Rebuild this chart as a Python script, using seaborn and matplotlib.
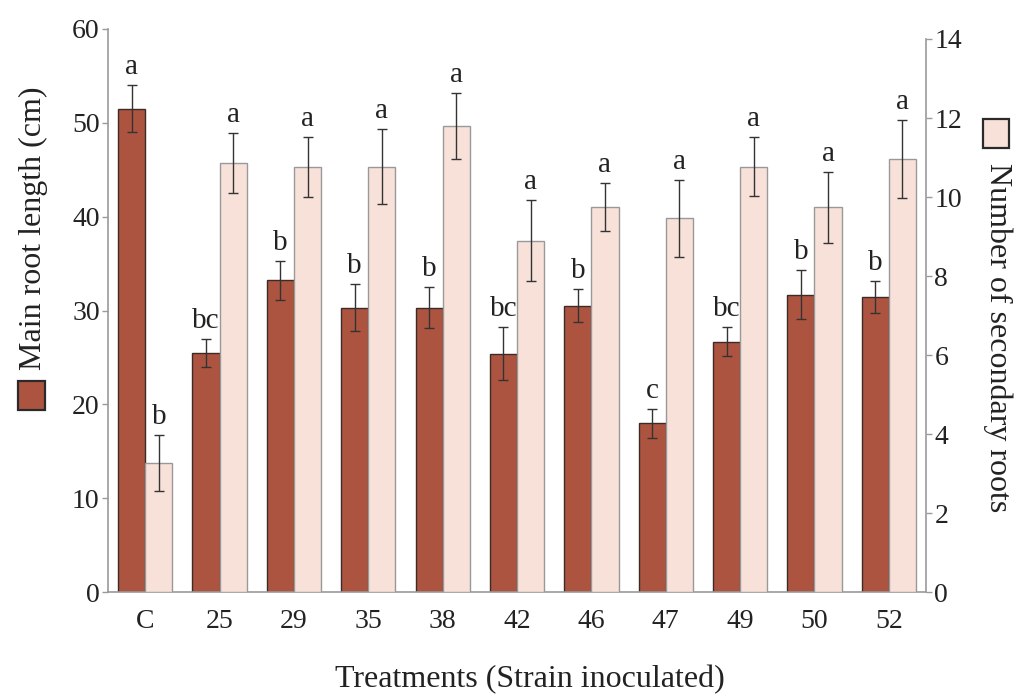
import numpy as np
import pandas as pd
import matplotlib
matplotlib.use("Agg")
import matplotlib.pyplot as plt
from matplotlib.patches import Rectangle
import seaborn as sns

categories = ["C", "25", "29", "35", "38", "42", "46", "47", "49", "50", "52"]
main_len = [51.5, 25.5, 33.2, 30.3, 30.3, 25.4, 30.5, 18.0, 26.7, 31.7, 31.4]
main_err = [2.5, 1.5, 2.05, 2.5, 2.2, 2.8, 1.75, 1.55, 1.5, 2.65, 1.7]
main_let = ["a", "bc", "b", "b", "b", "bc", "b", "c", "bc", "b", "b"]
sec_num = [3.27, 10.86, 10.77, 10.77, 11.8, 8.9, 9.74, 9.46, 10.77, 9.74, 10.96]
sec_err = [0.7, 0.75, 0.76, 0.95, 0.84, 1.03, 0.61, 0.98, 0.75, 0.89, 0.98]
sec_let = ["b", "a", "a", "a", "a", "a", "a", "a", "a", "a", "a"]

series = ["Main root length (cm)", "Number of secondary roots"]
n = len(categories)
# each axis gets both hue levels so seaborn dodges; the other series is a 0 placeholder
df_left = pd.DataFrame({"cat": categories * 2,
                        "val": list(main_len) + [0.0] * n,
                        "series": [series[0]] * n + [series[1]] * n})
df_right = pd.DataFrame({"cat": categories * 2,
                         "val": [0.0] * n + list(sec_num),
                         "series": [series[0]] * n + [series[1]] * n})

sns.set_theme(style="white")
plt.rcParams["font.family"] = ["Liberation Serif", "DejaVu Serif"]

C_MAIN = "#ad5441"
C_SEC = "#f7e1d9"
SPINE = "#9a9a9a"
FS_TICK = 20
FS_LET = 21
FS_LAB = 23
TXT = "#222222"

fig = plt.figure(figsize=(10.30, 6.98), dpi=100)
ax = fig.add_axes([0.1049, 0.1514, 0.899 - 0.1049, 0.9589 - 0.1514])
ax2 = ax.twinx()

palette = {series[0]: C_MAIN, series[1]: C_SEC}
sns.barplot(data=df_left, x="cat", y="val", hue="series", hue_order=series,
            palette=palette, order=categories, width=0.73, errorbar=None,
            saturation=1, edgecolor="#3a2b27", linewidth=1.0, legend=False, ax=ax)
sns.barplot(data=df_right, x="cat", y="val", hue="series", hue_order=series,
            palette=palette, order=categories, width=0.73, errorbar=None,
            saturation=1, edgecolor="#999999", linewidth=1.0, legend=False, ax=ax2)

def finish(axis, vals, errs, lets):
    for p in list(axis.patches):
        if p.get_height() == 0:
            p.remove()
    patches = sorted(axis.patches, key=lambda p: p.get_x())
    xs = [p.get_x() + p.get_width() / 2 for p in patches]
    axis.errorbar(xs, vals, yerr=errs, fmt="none", ecolor="#333333",
                  elinewidth=1.0, capsize=3.5, capthick=1.0, zorder=5)
    for x, v, e, l in zip(xs, vals, errs, lets):
        axis.annotate(l, (x, v + e), xytext=(0, 8), textcoords="offset points",
                      ha="center", va="baseline", fontsize=FS_LET, color=TXT)

finish(ax, main_len, main_err, main_let)
finish(ax2, sec_num, sec_err, sec_let)

ax.set_xlim(-0.5, n - 0.5)
ax.set_ylim(0, 60)
ax.set_yticks(np.arange(0, 61, 10))
# right axis: its 14 sits slightly below the left 60
ax2.set_ylim(0, 14 * 563.6 / 553.3)
ax2.set_yticks(np.arange(0, 15, 2))

for a in (ax, ax2):
    a.set_xlabel("")
    a.set_ylabel("")
    for s in a.spines.values():
        s.set_color(SPINE)
        s.set_linewidth(1.2)
    a.spines["top"].set_visible(False)
    a.tick_params(axis="both", colors=TXT, labelsize=FS_TICK, length=4,
                  width=1.0, color=SPINE, direction="out")
ax.spines["right"].set_visible(False)
ax2.spines["left"].set_visible(False)
ax2.spines["bottom"].set_visible(False)
ax2.spines["right"].set_bounds(0, 14)
ax.tick_params(axis="x", length=0, pad=12)
ax.tick_params(axis="y", pad=2)
ax2.tick_params(axis="y", pad=2)

fig.text(0.5145, 0.026, "Treatments (Strain inoculated)", ha="center",
         va="center", fontsize=FS_LAB, color=TXT)

# left label with legend square
fig.patches.append(Rectangle((18 / 1030, 1 - 410 / 698), 27 / 1030, 29 / 698,
                             transform=fig.transFigure, facecolor=C_MAIN,
                             edgecolor="#2a2a2a", linewidth=1.6))
fig.text(33 / 1030, 1 - 370 / 698, series[0], rotation=90, ha="center",
         va="bottom", fontsize=FS_LAB, color=TXT)
# right label with legend square
fig.patches.append(Rectangle((983 / 1030, 1 - 148 / 698), 26 / 1030, 29 / 698,
                             transform=fig.transFigure, facecolor=C_SEC,
                             edgecolor="#2a2a2a", linewidth=1.6))
fig.text(998 / 1030, 1 - 163 / 698, series[1], rotation=270, ha="center",
         va="top", fontsize=FS_LAB, color=TXT)

fig.savefig("out.png", dpi=100)
